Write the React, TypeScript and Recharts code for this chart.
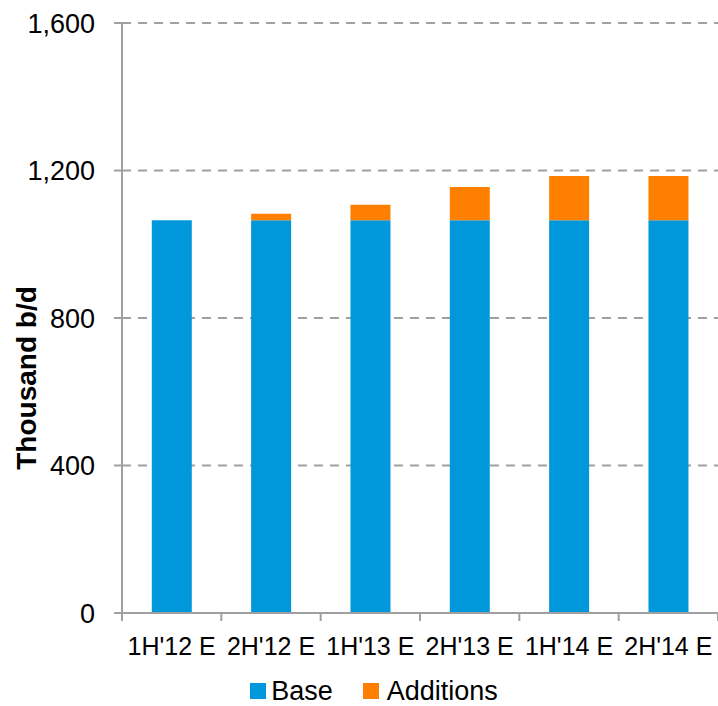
import { BarChart, Bar, XAxis, YAxis, CartesianGrid, Legend } from "recharts";

const categories = ["1H'12 E", "2H'12 E", "1H'13 E", "2H'13 E", "1H'14 E", "2H'14 E"];
const baseValues = [1065, 1065, 1065, 1065, 1065, 1065];
const additionValues = [0, 18, 42, 90, 120, 120];
const yTicks = [0, 400, 800, 1200, 1600];

const BLUE = "#0098DA";
const ORANGE = "#FF7F00";
const GREY = "#A0A0A0";
const FONT = "'Liberation Sans', Arial, sans-serif";
const LABEL_GAP = 24;

const data = categories.map((name, i) => ({
    name,
    base: baseValues[i],
    additions: additionValues[i],
}));

const YLabel = ({ viewBox }: { viewBox?: { x: number; y: number; width: number; height: number } }) => {
    if (!viewBox) return null;
    const cx = viewBox.x + 26;
    const cy = viewBox.y + viewBox.height / 2 + 60;
    return (
        <text
            x={cx}
            y={cy}
            transform={`rotate(-90, ${cx}, ${cy})`}
            textAnchor="middle"
            dominantBaseline="central"
            fontFamily={FONT}
            fontWeight="bold"
            fontSize={28}
            fill="#000"
        >
            Thousand b/d
        </text>
    );
};

// category label plus tick marks on the band edges (Excel style)
const CatTick = (props: any) => {
    const { x, y, payload, index } = props;
    const half = payload?.offset ?? 0;
    const axisY = y - LABEL_GAP;
    return (
        <g>
            <line x1={x - half} x2={x - half} y1={axisY} y2={axisY + 8} stroke={GREY} strokeWidth={2} />
            {index === categories.length - 1 && (
                <line x1={x + half} x2={x + half} y1={axisY} y2={axisY + 8} stroke={GREY} strokeWidth={2} />
            )}
            <text x={x} y={y} dy="0.71em" textAnchor="middle" fontSize={25} fontFamily={FONT} fill="#000">
                {payload.value}
            </text>
        </g>
    );
};

// legend drawn by hand so spacing matches
const LegendContent = () => (
    <div
        style={{
            display: "flex",
            justifyContent: "center",
            alignItems: "center",
            paddingLeft: 30,
            fontFamily: FONT,
            fontSize: 27,
            color: "#000",
            height: 30,
        }}
    >
        <span style={{ width: 16, height: 16, background: BLUE, marginRight: 5 }} />
        <span style={{ marginRight: 30 }}>Base</span>
        <span style={{ width: 16, height: 16, background: ORANGE, marginRight: 8 }} />
        <span>Additions</span>
    </div>
);

export default function App() {
    return (
        <div style={{ position: "absolute", left: 0, top: 0, background: "#fff" }}>
            <BarChart
                width={718}
                height={706}
                data={data}
                margin={{ top: 23, right: 0, left: 0, bottom: 0 }}
                barCategoryGap="30%"
            >
                <CartesianGrid vertical={false} stroke={GREY} strokeWidth={2} strokeDasharray="9 7" />
                <XAxis
                    dataKey="name"
                    height={63}
                    tickLine={false}
                    tickSize={0}
                    tickMargin={LABEL_GAP}
                    axisLine={{ stroke: GREY, strokeWidth: 2 }}
                    tick={<CatTick />}
                    interval={0}
                />
                <YAxis
                    width={122}
                    domain={[0, 1600]}
                    ticks={yTicks}
                    tickFormatter={(v: number) => v.toLocaleString("en-US")}
                    tick={{ fontSize: 27, fill: "#000", fontFamily: FONT }}
                    axisLine={{ stroke: GREY, strokeWidth: 2 }}
                    tickLine={{ stroke: GREY, strokeWidth: 2 }}
                    tickSize={8}
                    tickMargin={19}
                    label={<YLabel />}
                />
                <Legend verticalAlign="bottom" content={<LegendContent />} wrapperStyle={{ height: 30 }} />
                <Bar dataKey="base" stackId="s" fill={BLUE} isAnimationActive={false} />
                <Bar dataKey="additions" stackId="s" fill={ORANGE} isAnimationActive={false} />
            </BarChart>
        </div>
    );
}
